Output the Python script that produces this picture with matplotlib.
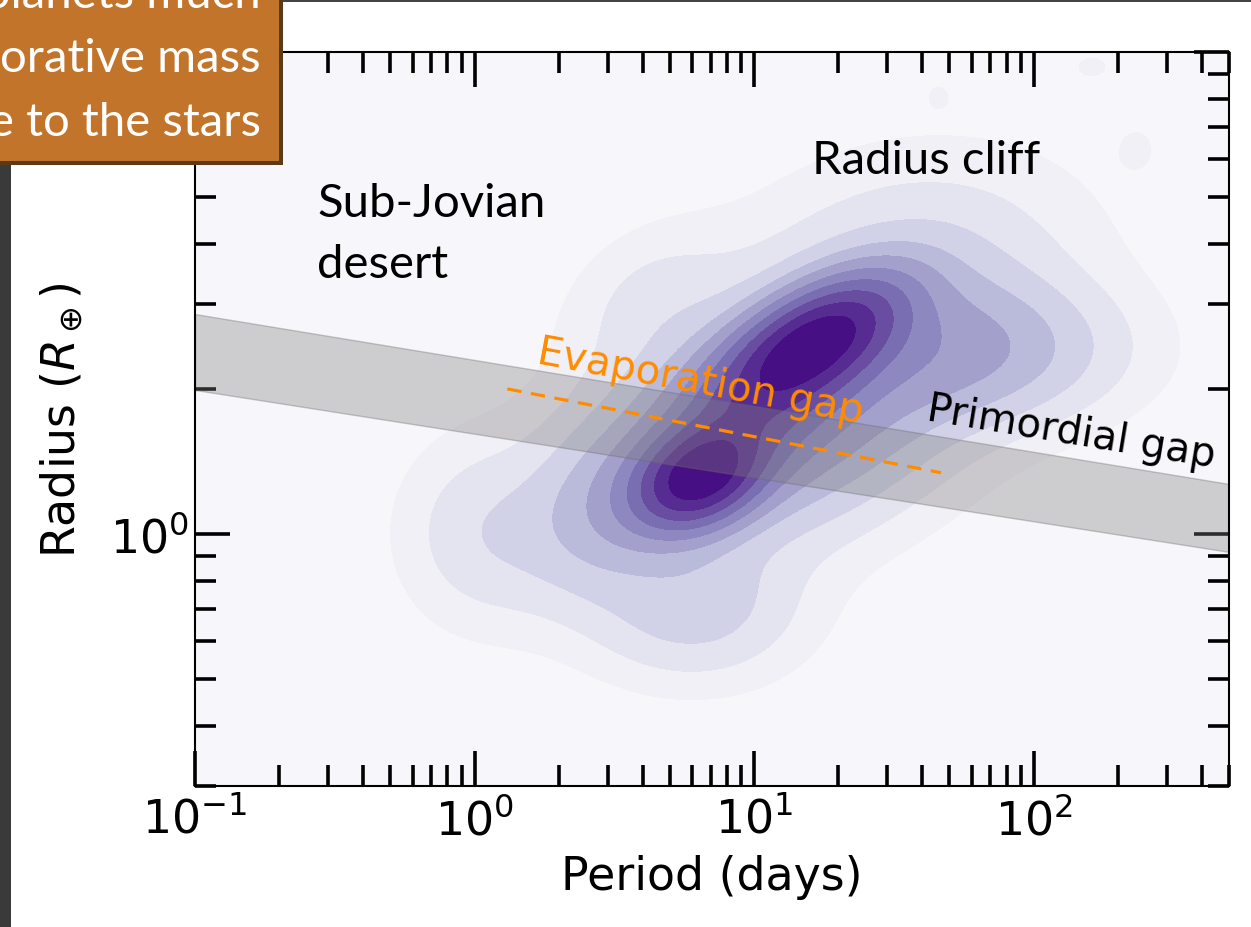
import numpy as np
import matplotlib
matplotlib.use("Agg")
import matplotlib.pyplot as plt
from matplotlib.patches import Rectangle
from matplotlib.ticker import LogLocator, NullFormatter, FuncFormatter

# ---------------- data ----------------
# primordial gap band (period in days, radius in Earth radii)
band_period = [0.1, 500.0]
band_upper = [2.86, 1.27]
band_lower = [1.99, 0.918]

# evaporation gap dashed line
evap_period = [1.31, 46.6]
evap_radius = [2.0, 1.34]

# occurrence density: blobs of the smoothed (KDE) planet distribution
blob_logp = [0.80, 1.22, 1.00, 1.10, 0.03, 1.60, 0.78, 1.80, 1.66, 2.21, 2.37, 0.45, 0.62]
blob_logr = [0.115, 0.40, 0.26, 0.24, 0.00, 0.58, -0.16, 0.38, 0.91, 0.97, 0.80, 0.05, 0.50]
blob_sigp = [0.15, 0.20, 0.20, 0.42, 0.20, 0.40, 0.26, 0.35, 0.04, 0.08, 0.06, 0.18, 0.20]
blob_sigr = [0.07, 0.085, 0.09, 0.17, 0.13, 0.15, 0.10, 0.10, 0.025, 0.03, 0.04, 0.12, 0.10]
blob_rho = [0.3, 0.55, 0.3, 0.3, 0.0, 0.1, 0.0, 0.0, 0.0, 0.0, 0.0, 0.2, 0.3]
blob_weight = [1.0, 0.95, 0.28, 0.35, 0.10, 0.10, 0.14, 0.20, 0.025, 0.03, 0.03, 0.15, 0.06]

level_fracs = [0.02, 0.05, 0.09, 0.14, 0.20, 0.28, 0.38, 0.50, 0.64, 0.80, 1.01]

x_limits = [0.1, 500.0]
y_limits = [0.3, 10.0]

# ---------------- figure ----------------
W, H = 1251, 928
fig = plt.figure(figsize=(W / 100, H / 100), dpi=100)
fig.patch.set_facecolor("white")

ax = fig.add_axes([195 / W, (H - 787) / H, (1229 - 195) / W, (787 - 53) / H])
ax.set_facecolor("#F7F7FB")
ax.set_xscale("log")
ax.set_yscale("log")

# density field
u = np.linspace(-1.0, 2.75, 400)
v = np.linspace(np.log10(0.3), 1.0, 300)
U, V = np.meshgrid(u, v)
Z = np.zeros_like(U)
for cp, cr, sp, sr, rho, w in zip(blob_logp, blob_logr, blob_sigp, blob_sigr, blob_rho, blob_weight):
    a = (U - cp) / sp
    b = (V - cr) / sr
    Z += w * np.exp(-(a * a - 2 * rho * a * b + b * b) / (2 * (1 - rho * rho)))
levels = np.array(level_fracs) * Z.max()
cmap = plt.get_cmap("Purples")
colors = [cmap(t) for t in np.linspace(0.1, 0.95, len(levels) - 1)]
ax.contourf(10 ** U, 10 ** V, Z, levels=levels, colors=colors, zorder=1)

# primordial gap
ax.fill_between(band_period, band_lower, band_upper, facecolor="gray", alpha=0.35,
                edgecolor="dimgray", linewidth=1.0, zorder=2)
# evaporation gap
ax.plot(evap_period, evap_radius, color="darkorange", lw=2.3, dashes=(4.5, 3), zorder=3)

ax.set_xlim(x_limits)
ax.set_ylim(y_limits)

for sp in ax.spines.values():
    sp.set_linewidth(1.5)
    sp.set_color("black")
    sp.set_zorder(5)

ax.xaxis.set_major_locator(LogLocator(base=10, numticks=10))
ax.xaxis.set_minor_locator(LogLocator(base=10, subs=np.arange(2, 10), numticks=20))
ax.yaxis.set_minor_locator(LogLocator(base=10, subs=np.arange(2, 10), numticks=20))
ax.xaxis.set_minor_formatter(NullFormatter())
ax.yaxis.set_minor_formatter(NullFormatter())
# the 10^1 label sits under the slide's text box, so only 10^0 is shown
ax.yaxis.set_major_formatter(FuncFormatter(lambda val, pos: r"$10^{0}$" if abs(val - 1) < 1e-9 else ""))
ax.tick_params(which="both", direction="in", top=True, right=True, width=2.6,
               labelsize=33, zorder=6)
ax.tick_params(which="major", length=25, pad=8)
ax.tick_params(axis="y", which="major", pad=4)
ax.tick_params(which="minor", length=15)

ax.set_xlabel("Period (days)", fontsize=33, labelpad=8)
ax.set_ylabel(r"Radius ($R_\oplus$)", fontsize=33, labelpad=18)

# annotations
ax.text(0.329, 0.578, "Evaporation gap", transform=ax.transAxes, color="darkorange",
        fontsize=29, rotation=-10.5, rotation_mode="anchor", ha="left", va="baseline", zorder=7)
ax.text(0.706, 0.500, "Primordial gap", transform=ax.transAxes, color="black",
        fontsize=29, rotation=-9.3, rotation_mode="anchor", ha="left", va="baseline", zorder=7)
ax.text(0.118, 0.823, "Sub-Jovian\ndesert", transform=ax.transAxes, fontsize=34,
        family="Lato", ha="left", va="top", linespacing=1.56, zorder=7)
ax.text(0.597, 0.881, "Radius cliff", transform=ax.transAxes, fontsize=34,
        family="Lato", ha="left", va="top", zorder=7)

# slide elements around the chart
fig.patches.append(Rectangle((0, 0), 11 / W, (H - 163) / H, transform=fig.transFigure,
                             facecolor="#3A3A3A", edgecolor="none", zorder=10))
fig.patches.append(Rectangle((280 / W, (H - 3) / H), 1, 3 / H, transform=fig.transFigure,
                             facecolor="#444444", edgecolor="none", zorder=10))
fig.patches.append(Rectangle((0, (H - 166) / H), 283 / W, 166 / H, transform=fig.transFigure,
                             facecolor="#5A3A18", edgecolor="none", zorder=10))
fig.patches.append(Rectangle((0, (H - 162) / H), 279 / W, 162 / H, transform=fig.transFigure,
                             facecolor="#C1742A", edgecolor="none", zorder=11))
box_lines = ["planets much", "orative mass", "e to the stars"]
box_baselines = [8, 72, 136]
for line, yb in zip(box_lines, box_baselines):
    fig.text(261 / W, (H - yb) / H, line, color="white", fontsize=34, family="Lato",
             ha="right", va="baseline", zorder=12)

fig.savefig("out.png", dpi=100)
